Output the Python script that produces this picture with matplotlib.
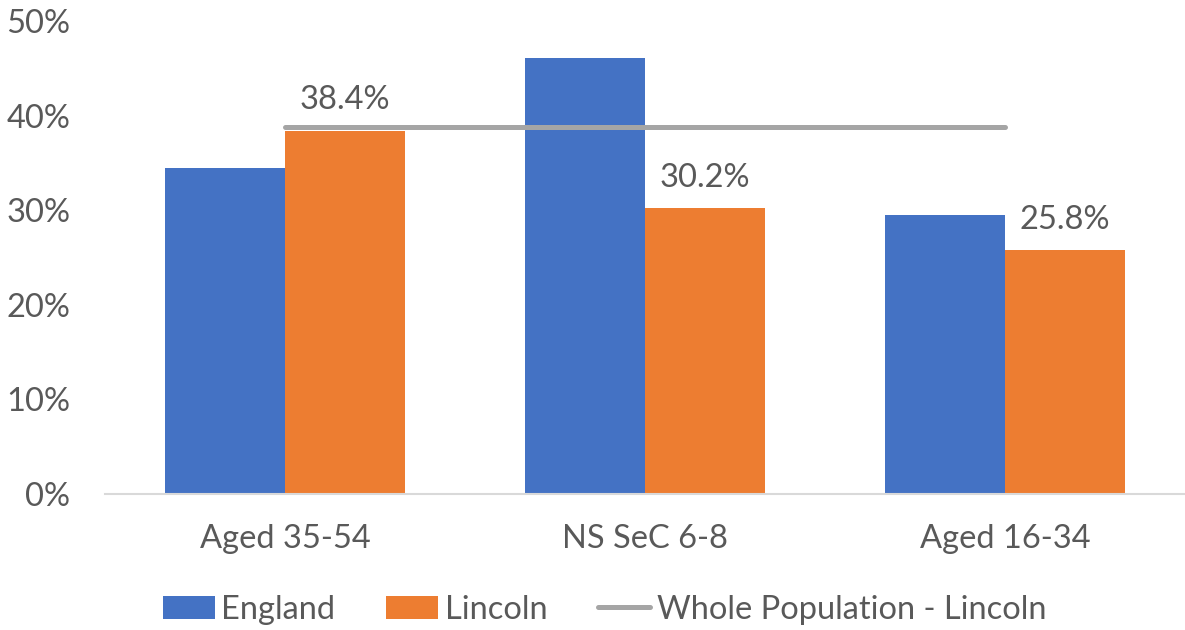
import numpy as np
import matplotlib
matplotlib.use("Agg")
import matplotlib.pyplot as plt
from matplotlib.ticker import PercentFormatter

# data
categories = ["Aged 35-54", "NS SeC 6-8", "Aged 16-34"]
england = [34.5, 46.1, 29.5]
lincoln = [38.4, 30.2, 25.8]
whole_pop = [38.8, 38.8, 38.8]

plt.rcParams["font.family"] = ["Lato", "DejaVu Sans"]
txt = "#595959"
fs = 23.5

fig = plt.figure(figsize=(11.85, 6.3), dpi=100)
ax = fig.add_axes([0.0886, 0.216, 0.9114, 0.7507])

x = np.arange(len(categories))
w = 1 / 3
b1 = ax.bar(x - w / 2, england, w, color="#4472C4", label="England")
bars = ax.bar(x + w / 2, lincoln, w, color="#ED7D31", label="Lincoln")
ln, = ax.plot(x, whole_pop, color="#A5A5A5", lw=3.6, solid_capstyle="round",
              label="Whole Population - Lincoln")

for b, v in zip(bars, lincoln):
    ax.annotate("{:.1f}%".format(v), (b.get_x() + b.get_width() / 2, v),
                xytext=(0, 11), textcoords="offset points",
                ha="center", va="bottom", fontsize=fs, color=txt)

ax.set_xlim(-0.5, 2.5)
ax.set_ylim(0, 50)
ax.set_yticks(range(0, 51, 10))
ax.yaxis.set_major_formatter(PercentFormatter(decimals=0))
ax.set_xticks(x)
ax.set_xticklabels(categories)
ax.tick_params(axis="both", length=0, labelsize=fs, labelcolor=txt)
ax.tick_params(axis="x", pad=22)
ax.tick_params(axis="y", pad=25)
for s in ["top", "right", "left"]:
    ax.spines[s].set_visible(False)
ax.spines["bottom"].set_color("#D9D9D9")
ax.spines["bottom"].set_linewidth(1.5)

fig.legend([b1, bars, ln], ["England", "Lincoln", "Whole Population - Lincoln"],
           loc="center", bbox_to_anchor=(0.51, 0.032), ncol=3,
           frameon=False, fontsize=fs, handlelength=1.6,
           handletextpad=0.2, columnspacing=1.55, labelcolor=txt)

fig.savefig("out.png", dpi=100)
